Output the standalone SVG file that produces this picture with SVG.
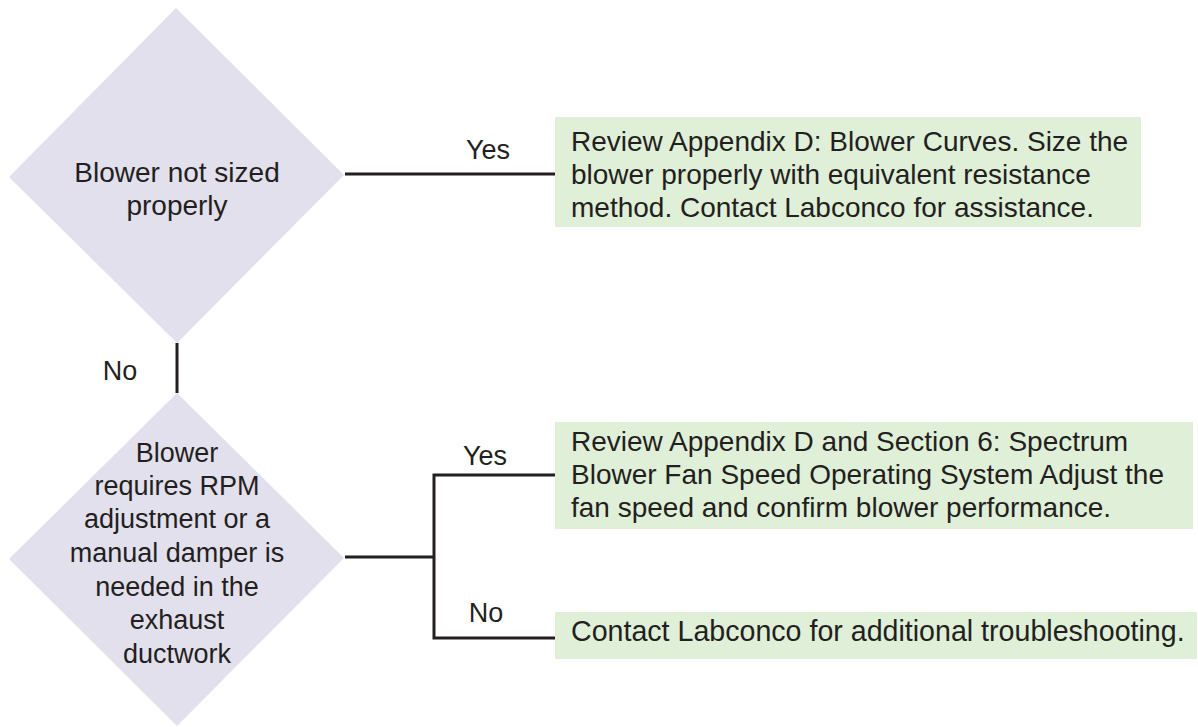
<svg xmlns="http://www.w3.org/2000/svg" width="1198" height="727" viewBox="0 0 1198 727">
<style>
text{font-family:"Liberation Sans",Arial,sans-serif;font-size:28px;fill:#231f20}
.c{text-anchor:middle}
.s{font-size:27px}
.l{font-size:28.6px}
.dia{fill:#e3e0ed}
.box{fill:#e0efd8}
.ln{stroke:#231f20;stroke-width:3;fill:none}
</style>
<rect width="1198" height="727" fill="#ffffff"/>
<g id="connectors">
<line class="ln" x1="177" y1="343" x2="177" y2="393"/>
<line class="ln" x1="345" y1="174" x2="555" y2="174"/>
<polyline class="ln" points="345,557 434,557"/>
<polyline class="ln" points="555,475 434,475 434,638 555,638"/>
<text class="c s" x="120" y="380">No</text>
<text class="c s" x="488" y="159">Yes</text>
<text class="c s" x="485" y="465">Yes</text>
<text class="c s" x="486" y="622">No</text>
</g>
<g id="d1">
<polygon class="dia" points="176,8 344,175 177,343 9,177"/>
<text class="c" x="177" y="182">Blower not sized</text>
<text class="c" x="177" y="215">properly</text>
</g>
<g id="d2">
<polygon class="dia" points="177,393 344,558 177,726 9,559"/>
<text class="c s" x="177" y="462">Blower</text>
<text class="c s" x="177" y="495">requires RPM</text>
<text class="c s" x="177" y="528">adjustment or a</text>
<text class="c s" x="177" y="562">manual damper is</text>
<text class="c s" x="177" y="596">needed in the</text>
<text class="c s" x="177" y="629">exhaust</text>
<text class="c s" x="177" y="663">ductwork</text>
</g>
<g id="b1">
<rect class="box" x="555" y="117" width="586" height="110"/>
<text x="571" y="151">Review Appendix D: Blower Curves. Size the</text>
<text x="571" y="184">blower properly with equivalent resistance</text>
<text x="571" y="217">method. Contact Labconco for assistance.</text>
</g>
<g id="b2">
<rect class="box" x="555" y="422" width="638" height="107"/>
<text x="571" y="451">Review Appendix D and Section 6: Spectrum</text>
<text x="571" y="484">Blower Fan Speed Operating System Adjust the</text>
<text x="571" y="517">fan speed and confirm blower performance.</text>
</g>
<g id="b3">
<rect class="box" x="555" y="612" width="642" height="47"/>
<text class="l" x="571" y="641">Contact Labconco for additional troubleshooting.</text>
</g>
</svg>
